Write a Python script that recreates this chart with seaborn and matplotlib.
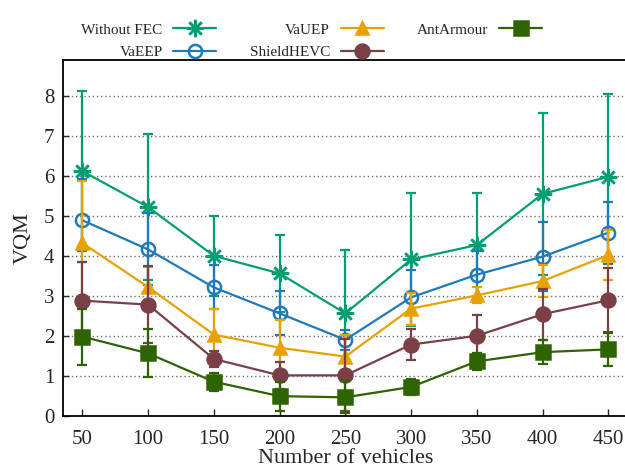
import seaborn as sns
import matplotlib.pyplot as plt
import pandas as pd

# data
vehicles = [50, 100, 150, 200, 250, 300, 350, 400, 450]
series_names = ["Without FEC", "VaEEP", "VaUEP", "ShieldHEVC", "AntArmour"]

without_fec = [6.12, 5.22, 4.00, 3.56, 2.56, 3.91, 4.27, 5.55, 5.98]
without_fec_err = [2.00, 1.83, 1.00, 0.97, 1.58, 1.67, 1.31, 2.03, 2.06]

vaeep = [4.89, 4.16, 3.21, 2.56, 1.90, 2.96, 3.53, 3.98, 4.58]
vaeep_err = [1.04, 0.90, 0.55, 0.55, 0.25, 0.68, 0.60, 0.87, 0.78]

vauep = [4.32, 3.22, 2.03, 1.70, 1.48, 2.68, 3.01, 3.37, 4.02]
vauep_err = [1.56, 0.50, 0.65, 0.70, 0.55, 0.40, 0.20, 0.40, 0.63]

shield = [2.88, 2.78, 1.42, 1.01, 1.01, 1.78, 2.00, 2.54, 2.89]
shield_err = [0.97, 0.96, 0.21, 0.33, 0.90, 0.38, 0.53, 0.64, 0.80]

antarmour = [1.98, 1.56, 0.85, 0.49, 0.46, 0.72, 1.36, 1.59, 1.66]
antarmour_err = [0.70, 0.60, 0.23, 0.36, 0.40, 0.20, 0.22, 0.30, 0.42]

sns.set_theme(style="ticks")
plt.rcParams['font.family'] = ['Liberation Serif', 'DejaVu Serif']

colors = ['#009e73', '#2079b9', '#e9a100', '#7b3f48', '#2e6400']
markers = [(8, 2, 0), 'o', '^', 'o', 's']
msizes = [12.5, 9.5, 9, 10, 10]
faces = [None, 'none', None, None, None]

values = [without_fec, vaeep, vauep, shield, antarmour]
errors = [without_fec_err, vaeep_err, vauep_err, shield_err, antarmour_err]

fig = plt.figure(figsize=(6.25, 4.69), dpi=100)
ax = fig.add_axes([0.1003, 0.1136, 0.9045, 0.7584])

for i, name in enumerate(series_names):
    df = pd.DataFrame({"vehicles": vehicles, "vqm": values[i]})
    ax.errorbar(df["vehicles"], df["vqm"], yerr=errors[i], fmt='none',
                ecolor=colors[i], elinewidth=1.6, capsize=3.5, capthick=1.6,
                zorder=2 + i)
    kw = dict(marker=markers[i], markersize=msizes[i], markeredgewidth=1.8,
              markeredgecolor=colors[i], color=colors[i], linewidth=1.6,
              zorder=2.5 + i)
    if faces[i] is not None:
        kw['markerfacecolor'] = faces[i]
    sns.lineplot(data=df, x="vehicles", y="vqm", ax=ax, label=name, **kw)

ax.set_xlim(35, 465)
ax.set_ylim(0, 8.9)
ax.set_xticks(vehicles)
ax.set_yticks(range(0, 9))
ax.yaxis.grid(True, linestyle=(0, (1, 2)), color='#707070', linewidth=1.0)
ax.xaxis.grid(False)
ax.spines['right'].set_visible(False)
for s in ['left', 'bottom', 'top']:
    ax.spines[s].set_linewidth(1.3)
    ax.spines[s].set_color('black')
ax.tick_params(axis='x', direction='in', length=5, width=1, pad=10,
               labelsize=15, top=False)
ax.tick_params(axis='y', direction='in', length=4, width=1, pad=6,
               labelsize=15, right=False)
ax.set_xlabel("Number of vehicles", fontsize=16, labelpad=0)
ax.set_ylabel("VQM", fontsize=16, labelpad=8)

handles, labels = ax.get_legend_handles_labels()
ax.legend(handles, labels, ncol=3, markerfirst=False, frameon=False,
          fontsize=11, handlelength=2.8, handletextpad=0.7,
          columnspacing=2.2, labelspacing=0.55, borderpad=0,
          loc='upper left', bbox_to_anchor=(0.118, 0.967),
          bbox_transform=fig.transFigure)

fig.savefig("out.png", dpi=100)
